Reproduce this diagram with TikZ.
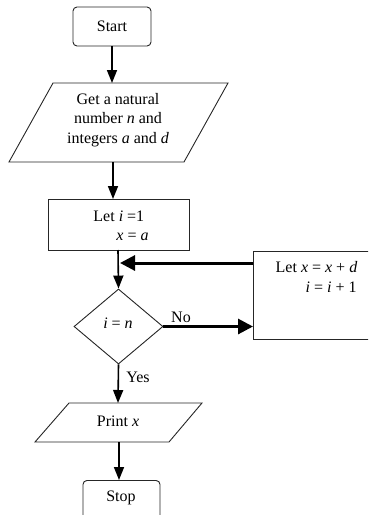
\documentclass[tikz,border=0pt]{standalone}
\usepackage{fontspec}
\setmainfont{Liberation Serif}
\usetikzlibrary{arrows.meta,shapes.geometric}
\begin{document}
\begin{tikzpicture}[x=1pt,y=-1pt,
  every node/.style={font=\fontsize{16}{19.5}\selectfont, inner sep=0pt},
  shapeline/.style={draw=black!85, line width=0.9pt},
  thinarrow/.style={draw=black, line width=1.6pt, -{Triangle[length=13pt,width=10pt]}},
  thickarrow/.style={draw=black, line width=3pt, -{Triangle[length=15pt,width=15pt]}},
  txt/.style={align=left}
]
\useasboundingbox (0,0) rectangle (368,515);
\clip (0,0) rectangle (368,515);

% Start
\node[shapeline, rounded corners=4pt, minimum width=78pt, minimum height=39pt] (start) at (112,26.5) {Start};

% Input parallelogram
\coordinate (gtl) at (53,83); \coordinate (gtr) at (228,83);
\coordinate (gbr) at (184,162); \coordinate (gbl) at (9,162);
\draw[shapeline] (gtl) -- (gtr) -- (gbr) -- (gbl) -- cycle;
\coordinate (gettop) at (112,83);
\coordinate (getbot) at (113,162);
\node[align=center] (gettxt) at (118,120) {Get a natural\\ number \textit{n} and\\ integers \textit{a} and \textit{d}};

% Let box
\node[shapeline, minimum width=141pt, minimum height=51pt] (let) at (118.5,224.5) {};
\node[txt] (lettxt) at (121,226) {Let \textit{i} =1\\ \hspace*{23pt}\textit{x} = \textit{a}};
\coordinate (lettop) at (113,199);
\coordinate (letbot) at (118,250);

% Diamond
\node[shapeline, diamond, minimum width=89pt, minimum height=75pt, aspect=1.19] (dec) at (118.5,326.5) {};
\node (dectxt) at (118,323) {\textit{i} = \textit{n}};

% Update box (extends beyond right edge)
\node[shapeline, minimum width=150pt, minimum height=88pt, anchor=west] (upd) at (253,295) {};
\node[txt] (updtxt) at (316.5,277) {Let \textit{x} = \textit{x} + \textit{d}\\ \hspace*{30pt}\textit{i} = \textit{i} + 1};
\coordinate (updin) at (253,263);
\coordinate (join) at (120,263);

% Print parallelogram
\coordinate (ptl) at (69,403); \coordinate (ptr) at (202,403);
\coordinate (pbr) at (169,442); \coordinate (pbl) at (35,442);
\draw[shapeline] (ptl) -- (ptr) -- (pbr) -- (pbl) -- cycle;
\coordinate (printtop) at (118,403);
\coordinate (printbot) at (119,442);
\node (printtxt) at (118,421) {Print \textit{x}};

% Stop (extends beyond bottom edge)
\node[shapeline, rounded corners=4pt, minimum width=77pt, minimum height=50pt, anchor=north] (stop) at (121.5,480) {};
\node (stoptxt) at (121,498) {Stop};
\coordinate (stoptop) at (119,480);

% Connectors
\draw[thinarrow] (start.south) -- (gettop);
\draw[thinarrow] (getbot) -- (lettop);
\draw[thinarrow] (letbot) -- (dec.north);
\draw[thickarrow] (updin) -- (join);
\draw[thickarrow] (dec.east) -- (upd.west |- dec.east);
\draw[thinarrow] (dec.south) -- (printtop);
\draw[thinarrow] (printbot) -- (stoptop);

% Labels
\node (no) at (181,317) {No};
\node (yes) at (138,377) {Yes};
\end{tikzpicture}
\end{document}
